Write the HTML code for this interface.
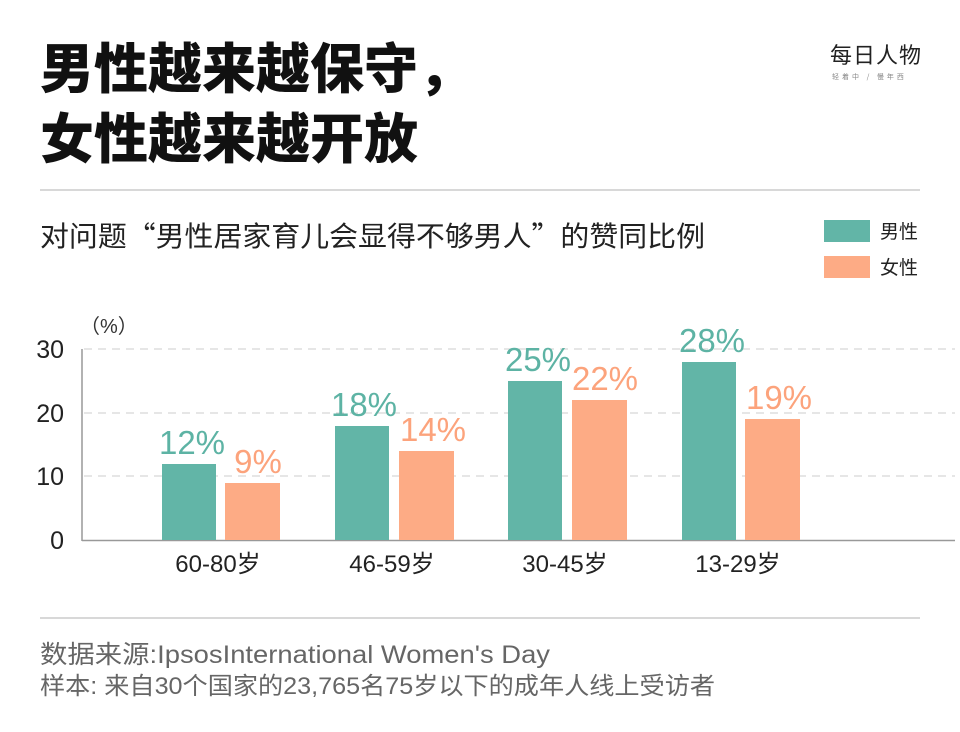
<!DOCTYPE html>
<html><head><meta charset="utf-8"><style>
body{margin:0;background:#fff;width:960px;height:732px;overflow:hidden;font-family:"Liberation Sans","Noto Sans CJK SC",sans-serif;}
.t{position:absolute;left:40px;font-weight:900;font-size:54px;color:#111;line-height:1;font-family:"Noto Sans CJK SC",sans-serif;}
</style></head><body>
<div class="t" style="top:38px">男性越来越保守，</div>
<div class="t" style="top:108px">女性越来越开放</div>
<div style="position:absolute;left:830px;top:38px;font-size:22px;letter-spacing:1px;color:#222;font-family:'Noto Sans CJK SC',sans-serif">每日人物</div>
<div style="position:absolute;left:832px;top:72px;font-size:7px;color:#888;letter-spacing:3px;font-family:'Noto Sans CJK SC',sans-serif">轻着中 / 慢年西</div>
<svg width="960" height="732" style="position:absolute;left:0;top:0" font-family="Liberation Sans,Noto Sans CJK SC,sans-serif">
<line x1="40" y1="190" x2="920" y2="190" stroke="#ccc" stroke-width="1.5"/>
<line x1="40" y1="618" x2="920" y2="618" stroke="#ccc" stroke-width="1.5"/>
<text x="40" y="246" font-size="28" fill="#222" font-family="Noto Sans CJK SC,sans-serif" textLength="665" lengthAdjust="spacingAndGlyphs">对问题“男性居家育儿会显得不够男人”的赞同比例</text>
<rect x="824" y="220" width="46" height="22" fill="#62b5a7"/>
<rect x="824" y="256" width="46" height="22" fill="#fdab85"/>
<text x="880" y="238" font-size="19" fill="#222" font-family="Noto Sans CJK SC,sans-serif">男性</text>
<text x="880" y="274" font-size="19" fill="#222" font-family="Noto Sans CJK SC,sans-serif">女性</text>
<text x="80" y="333" font-size="20" fill="#333">（%）</text>
<g stroke="#ccc" stroke-dasharray="8 6" stroke-width="1">
<line x1="84" y1="349" x2="955" y2="349"/><line x1="84" y1="413" x2="955" y2="413"/><line x1="84" y1="476" x2="955" y2="476"/></g>
<line x1="82" y1="349" x2="82" y2="541" stroke="#999" stroke-width="1.5"/>
<line x1="82" y1="540.5" x2="955" y2="540.5" stroke="#999" stroke-width="1.5"/>
<g font-size="25" fill="#222" text-anchor="end">
<text x="64" y="358">30</text><text x="64" y="422">20</text><text x="64" y="485">10</text><text x="64" y="549">0</text></g>
<g fill="#62b5a7">
<rect x="162" y="464" width="54" height="76"/><rect x="335" y="426" width="54" height="114"/><rect x="508" y="381" width="54" height="159"/><rect x="682" y="362" width="54" height="178"/></g>
<g fill="#fdab85">
<rect x="225" y="483" width="55" height="57"/><rect x="399" y="451" width="55" height="89"/><rect x="572" y="400" width="55" height="140"/><rect x="745" y="419" width="55" height="121"/></g>
<g font-size="33" text-anchor="middle" fill="#5db3a4">
<text x="192" y="454">12%</text><text x="364" y="416">18%</text><text x="538" y="371">25%</text><text x="712" y="352">28%</text></g>
<g font-size="33" text-anchor="middle" fill="#fca37c">
<text x="258" y="473">9%</text><text x="433" y="441">14%</text><text x="605" y="390">22%</text><text x="779" y="409">19%</text></g>
<g font-size="24" fill="#222" text-anchor="middle">
<text x="218" y="572">60-80岁</text><text x="392" y="572">46-59岁</text><text x="565" y="572">30-45岁</text><text x="738" y="572">13-29岁</text></g>
<text x="40" y="663" font-size="25" fill="#666" textLength="510" lengthAdjust="spacingAndGlyphs">数据来源:IpsosInternational Women's Day</text>
<text x="40" y="694" font-size="24" fill="#666" textLength="675" lengthAdjust="spacingAndGlyphs">样本: 来自30个国家的23,765名75岁以下的成年人线上受访者</text>
</svg>
</body></html>
